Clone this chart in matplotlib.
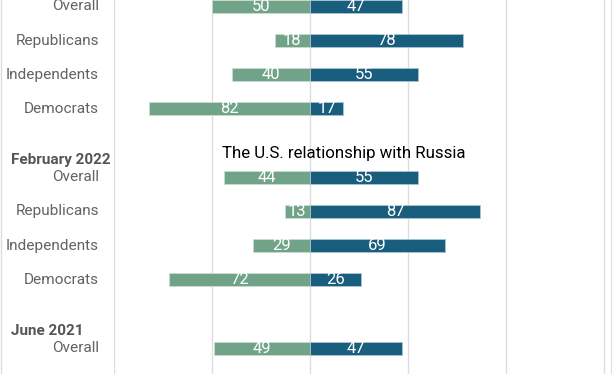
import numpy as np
import matplotlib.pyplot as plt

# rows from top to bottom (None = blank spacer row)
row_labels = ["Overall", "Republicans", "Independents", "Democrats", None,
              "Overall", "Republicans", "Independents", "Democrats", None,
              "Overall"]
neg_vals = [50, 18, 40, 82, None, 44, 13, 29, 72, None, 49]
pos_vals = [47, 78, 55, 17, None, 55, 87, 69, 26, None, 47]
group_labels = ["February 2022", "June 2021"]
group_rows = [4.5, 9.5]
title_text = "The U.S. relationship with Russia"

green = "#70a388"
blue = "#1a5e7e"
grid_col = "#dddddd"

plt.rcParams['font.family'] = ['Roboto', 'DejaVu Sans']

fig = plt.figure(figsize=(6.12, 3.74), dpi=100)
ax = fig.add_axes([114 / 612, 0, (611 - 114) / 612, 1])

ys = [i for i, v in enumerate(neg_vals) if v is not None]
negs = np.array([neg_vals[i] for i in ys])
poss = np.array([pos_vals[i] for i in ys])
bh = 0.38

ax.barh(ys, -negs, height=bh, color=green, edgecolor="#c9dccf", linewidth=0.6, zorder=3)
ax.barh(ys, poss, height=bh, color=blue, edgecolor="#a9c3d2", linewidth=0.6, zorder=3)

for y, n, p in zip(ys, negs, poss):
    ax.text(-n / 2, y, str(n), ha="center", va="center", color="white",
            fontsize=12, zorder=4)
    ax.text(p / 2, y, str(p), ha="center", va="center", color="white",
            fontsize=12, zorder=4)

ax.set_xlim(-100, 153.6)
ax.set_ylim(10.76, -0.19)
ax.set_xticks([-100, -50, 0, 50, 100, 150])
ax.set_yticks([])
ax.tick_params(axis="x", length=0, labelbottom=False)
ax.grid(axis="x", color=grid_col, linewidth=1, zorder=0)
for s in ["top", "bottom", "left"]:
    ax.spines[s].set_visible(False)
ax.spines["right"].set_color(grid_col)

# category labels
for i, lab in enumerate(row_labels):
    if lab is None:
        continue
    y_fig = 1 - (6.5 + i * 34.15) / 374
    fig.text(99 / 612, y_fig, lab, ha="right", va="center", color="#626262",
             fontsize=11.1)

for lab, r in zip(group_labels, group_rows):
    y_fig = 1 - (6.5 + r * 34.15) / 374
    fig.text(11 / 612, y_fig, lab, ha="left", va="center", color="#555555",
             fontsize=11, fontweight="bold")

fig.text(222 / 612, 1 - 153 / 374, title_text, ha="left", va="center",
         color="black", fontsize=12.2)

# faint left border line
fig.add_artist(plt.Line2D([0.5 / 612, 0.5 / 612], [0, 1], color=grid_col, linewidth=1))

fig.savefig("out.png", dpi=100)
